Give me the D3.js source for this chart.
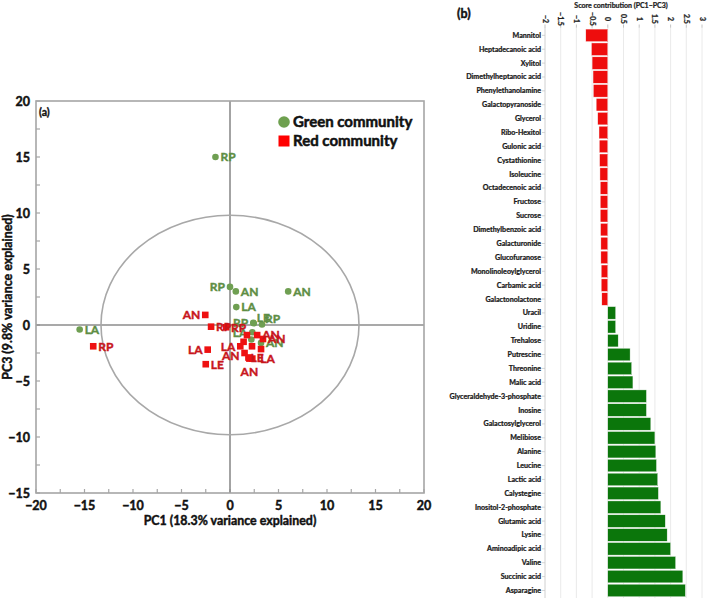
<!DOCTYPE html>
<html lang="en">
<head>
<meta charset="utf-8">
<title>PCA scores and contributions</title>
<script src="https://cdn.jsdelivr.net/npm/d3@7"></script>
<style>
  body { margin: 0; background: #fff; }
  text { font-family: Lato, "Open Sans", sans-serif; font-weight: bold; }
</style>
</head>
<body>
<script>
// ---- panel (a) data: PC1 / PC3 scores ----
var greenX = [-1.5, -15.5, 0.0, 0.6, 6.0, 0.65, 2.4, 2.45, 3.3, 2.3, 2.2, 3.2];
var greenY = [15.0, -0.4, 3.4, 3.0, 3.0, 1.6, 0.2, 0.15, 0.05, -0.65, -1.3, -1.6];
var greenLabel = ["RP", "LA", "RP", "AN", "AN", "LA", "RP", "LE", "RP", "LA", "", "AN"];

var redX = [-14.1, -2.55, -1.95, -0.4, -2.3, -2.5, 1.75, 2.8, 1.4, 1.06, 2.27, 3.2, 3.4, 1.5, 2.0, 2.3, 1.9];
var redY = [-1.9, 0.9, -0.15, -0.2, -2.2, -3.5, -0.9, -0.9, -1.5, -1.9, -1.9, -2.15, -1.25, -2.5, -3.0, -3.0, -2.9];
var redLabel = ["RP", "AN", "RP", "RP", "LA", "LE", "", "AN", "", "LA", "", "", "AN", "AN", "AN", "LA", "LE"];

var xTicks = [-20, -15, -10, -5, 0, 5, 10, 15, 20];
var yTicks = [-15, -10, -5, 0, 5, 10, 15, 20];

// ---- panel (b) data: score contribution ----
var compounds = ["Mannitol", "Heptadecanoic acid", "Xylitol", "Dimethylheptanoic acid", "Phenylethanolamine",
  "Galactopyranoside", "Glycerol", "Ribo-Hexitol", "Gulonic acid", "Cystathionine", "Isoleucine",
  "Octadecenoic acid", "Fructose", "Sucrose", "Dimethylbenzoic acid", "Galacturonide", "Glucofuranose",
  "Monolinoleoylglycerol", "Carbamic acid", "Galactonolactone", "Uracil", "Uridine", "Trehalose",
  "Putrescine", "Threonine", "Malic acid", "Glyceraldehyde-3-phosphate", "Inosine", "Galactosylglycerol",
  "Melibiose", "Alanine", "Leucine", "Lactic acid", "Calystegine", "Inositol-2-phosphate", "Glutamic acid",
  "Lysine", "Aminoadipic acid", "Valine", "Succinic acid", "Asparagine"];
var contribution = [-0.70, -0.52, -0.50, -0.47, -0.46, -0.37, -0.32, -0.28, -0.27, -0.26, -0.25,
  -0.24, -0.24, -0.24, -0.23, -0.22, -0.22, -0.21, -0.21, -0.19, 0.25, 0.25, 0.33,
  0.71, 0.76, 0.80, 1.23, 1.23, 1.37, 1.50, 1.53, 1.55, 1.59, 1.61, 1.69, 1.83,
  1.89, 2.00, 2.16, 2.39, 2.47];
var contribTicks = [-2, -1.5, -1, -0.5, 0, 0.5, 1, 1.5, 2, 2.5, 3];

var W = 709, H = 598;
var svg = d3.select("body").append("svg").attr("width", W).attr("height", H);

// ================= panel (a) =================
var x = d3.scaleLinear().domain([-20, 20]).range([36, 424]);
var y = d3.scaleLinear().domain([-15, 20]).range([493, 101]);
var frameCol = "#a6a6a6";

var pa = svg.append("g");

// minor + major ticks, inward
var xMinor = d3.range(-20, 20.1, 2.5), yMinor = d3.range(-15, 20.1, 2.5);
pa.selectAll(".xt").data(xMinor).enter().append("line")
  .attr("x1", d => x(d)).attr("x2", d => x(d))
  .attr("y1", y(-15)).attr("y2", y(-15) - 4)
  .attr("stroke", frameCol).attr("stroke-width", 1.2);
pa.selectAll(".yt").data(yMinor).enter().append("line")
  .attr("y1", d => y(d)).attr("y2", d => y(d))
  .attr("x1", x(-20)).attr("x2", x(-20) + 4)
  .attr("stroke", frameCol).attr("stroke-width", 1.2);

// cross lines through origin
pa.append("line").attr("x1", x(0)).attr("x2", x(0)).attr("y1", y(20)).attr("y2", y(-15))
  .attr("stroke", "#8c8c8c").attr("stroke-width", 1.6);
pa.append("line").attr("x1", x(-20)).attr("x2", x(20)).attr("y1", y(0)).attr("y2", y(0))
  .attr("stroke", "#8c8c8c").attr("stroke-width", 1.6);

// confidence ellipse
pa.append("ellipse").attr("cx", x(0)).attr("cy", y(0))
  .attr("rx", x(13.3) - x(0)).attr("ry", y(0) - y(9.8))
  .attr("fill", "none").attr("stroke", "#a8a8a8").attr("stroke-width", 1.6);

// frame
pa.append("rect").attr("x", x(-20)).attr("y", y(20))
  .attr("width", x(20) - x(-20)).attr("height", y(-15) - y(20))
  .attr("fill", "none").attr("stroke", frameCol).attr("stroke-width", 1.6);

// tick labels
pa.selectAll(".xl").data(xTicks).enter().append("text")
  .attr("x", d => x(d)).attr("y", 510)
  .attr("text-anchor", "middle").attr("font-size", 12.5).attr("fill", "#111")
  .text(d => d < 0 ? "\u2212" + Math.abs(d) : d);
pa.selectAll(".yl").data(yTicks).enter().append("text")
  .attr("x", 30).attr("y", d => y(d)).attr("dy", "0.36em")
  .attr("text-anchor", "end").attr("font-size", 12.5).attr("fill", "#111")
  .text(d => d < 0 ? "\u2212" + Math.abs(d) : d);

pa.append("text").attr("x", x(0)).attr("y", 525).attr("text-anchor", "middle")
  .attr("font-size", 12.4).attr("fill", "#111").text("PC1 (18.3% variance explained)");
pa.append("text").attr("transform", "translate(12," + y(2.5) + ") rotate(-90)")
  .attr("text-anchor", "middle").attr("font-size", 12.4).attr("fill", "#111")
  .text("PC3 (9.8% variance explained)");
pa.append("text").attr("x", 39).attr("y", 116).attr("font-size", 10.5).attr("fill", "#111").text("(a)");

// points
var greenPts = greenX.map((d, i) => ({ x: d, y: greenY[i], label: greenLabel[i] }));
var redPts = redX.map((d, i) => ({ x: d, y: redY[i], label: redLabel[i] }));

// label placement: default right of the mark
var greenPlace = { 2: [-5, 0, "end"], 6: [-5, 0, "end"], 7: [3, -6, "start"], 8: [3, -6, "start"], 9: [-5, 0, "end"] };
var redPlace = { 1: [-5, 0, "end"], 4: [-5, 0, "end"], 9: [-5, 0, "end"], 13: [-5, 3, "end"], 14: [0, 13, "middle"], 15: [8, 0, "start"], 16: [2, 0, "start"] };
function place(map, i) { return map[i] || [5, 0, "start"]; }

var gCol = "#6f9f52", gTxt = "#5e8e44", rCol = "#ee1111", rTxt = "#c8161c";

pa.selectAll(".gp").data(greenPts).enter().append("circle")
  .attr("cx", d => x(d.x)).attr("cy", d => y(d.y)).attr("r", 3.3).attr("fill", gCol);
pa.selectAll(".gl").data(greenPts).enter().append("text")
  .attr("x", (d, i) => x(d.x) + place(greenPlace, i)[0])
  .attr("y", (d, i) => y(d.y) + place(greenPlace, i)[1])
  .attr("dy", "0.36em").attr("text-anchor", (d, i) => place(greenPlace, i)[2])
  .attr("font-size", 12).attr("fill", gTxt).text(d => d.label);

pa.selectAll(".rp").data(redPts).enter().append("rect")
  .attr("x", d => x(d.x) - 3.3).attr("y", d => y(d.y) - 3.3)
  .attr("width", 6.6).attr("height", 6.6).attr("fill", rCol);
pa.selectAll(".rl").data(redPts).enter().append("text")
  .attr("x", (d, i) => x(d.x) + place(redPlace, i)[0])
  .attr("y", (d, i) => y(d.y) + place(redPlace, i)[1])
  .attr("dy", "0.36em").attr("text-anchor", (d, i) => place(redPlace, i)[2])
  .attr("font-size", 12).attr("fill", rTxt).text(d => d.label);

// legend
var lg = pa.append("g").attr("transform", "translate(284,122)");
lg.append("circle").attr("cx", 0).attr("cy", 0).attr("r", 5.8).attr("fill", "#6ea04f");
lg.append("text").attr("x", 9).attr("y", 0).attr("dy", "0.36em").attr("font-size", 15).attr("fill", "#111").text("Green community");
lg.append("rect").attr("x", -5.5).attr("y", 13.5).attr("width", 11).attr("height", 11).attr("fill", "#ff0000");
lg.append("text").attr("x", 9).attr("y", 19).attr("dy", "0.36em").attr("font-size", 15).attr("fill", "#111").text("Red community");

// ================= panel (b) =================
var bx = d3.scaleLinear().domain([-2, 3]).range([545, 702]);
var by = d3.scaleBand().domain(compounds).range([28.4, 597.4]).paddingInner(0.1).paddingOuter(0.05);
var pb = svg.append("g");

pb.selectAll(".grid").data(contribTicks.slice(1)).enter().append("line")
  .attr("x1", d => bx(d)).attr("x2", d => bx(d)).attr("y1", 27).attr("y2", H)
  .attr("stroke", "#e4e4e4").attr("stroke-width", 0.8);
pb.selectAll(".tt").data(contribTicks).enter().append("line")
  .attr("x1", d => bx(d)).attr("x2", d => bx(d)).attr("y1", 24.5).attr("y2", 27.5)
  .attr("stroke", "#aaa").attr("stroke-width", 0.7);
pb.selectAll(".tl").data(contribTicks).enter().append("text")
  .attr("transform", d => "translate(" + (bx(d) - 2.5) + ",19) rotate(90)")
  .attr("text-anchor", "middle").attr("font-size", 7).attr("fill", "#222")
  .text(d => d < 0 ? "\u2212" + Math.abs(d) : d);
pb.append("text").attr("x", 621).attr("y", 8).attr("text-anchor", "middle")
  .attr("font-size", 7).attr("fill", "#222").text("Score contribution (PC1\u2013PC3)");
pb.append("text").attr("x", 457).attr("y", 18).attr("font-size", 12.5).attr("fill", "#111").text("(b)");

pb.append("line").attr("x1", bx(-2)).attr("x2", bx(-2)).attr("y1", 27).attr("y2", H)
  .attr("stroke", "#c4c4c4").attr("stroke-width", 0.8);
pb.selectAll(".yt").data(compounds).enter().append("line")
  .attr("x1", bx(-2) - 3).attr("x2", bx(-2))
  .attr("y1", d => by(d) + by.bandwidth() / 2).attr("y2", d => by(d) + by.bandwidth() / 2)
  .attr("stroke", "#c4c4c4").attr("stroke-width", 0.7);
pb.selectAll(".cl").data(compounds).enter().append("text")
  .attr("x", bx(-2) - 4).attr("y", d => by(d) + by.bandwidth() / 2).attr("dy", "0.35em")
  .attr("text-anchor", "end").attr("font-size", 7.1).attr("fill", "#1a1a1a").text(d => d);

pb.selectAll(".bar").data(compounds).enter().append("rect")
  .attr("x", (d, i) => bx(Math.min(0, contribution[i])))
  .attr("width", (d, i) => Math.abs(bx(contribution[i]) - bx(0)))
  .attr("y", d => by(d)).attr("height", by.bandwidth())
  .attr("fill", (d, i) => contribution[i] < 0 ? "#ee0d0d" : "#0b760b")
  .attr("stroke", "#f4f4f4").attr("stroke-width", 0.4);

// the original type is a heavier bold: thicken glyphs a little with a matching outline
svg.selectAll("text").each(function () {
  var t = d3.select(this);
  t.attr("stroke", t.attr("fill")).attr("stroke-width", +t.attr("font-size") * 0.035);
});
</script>
</body>
</html>
